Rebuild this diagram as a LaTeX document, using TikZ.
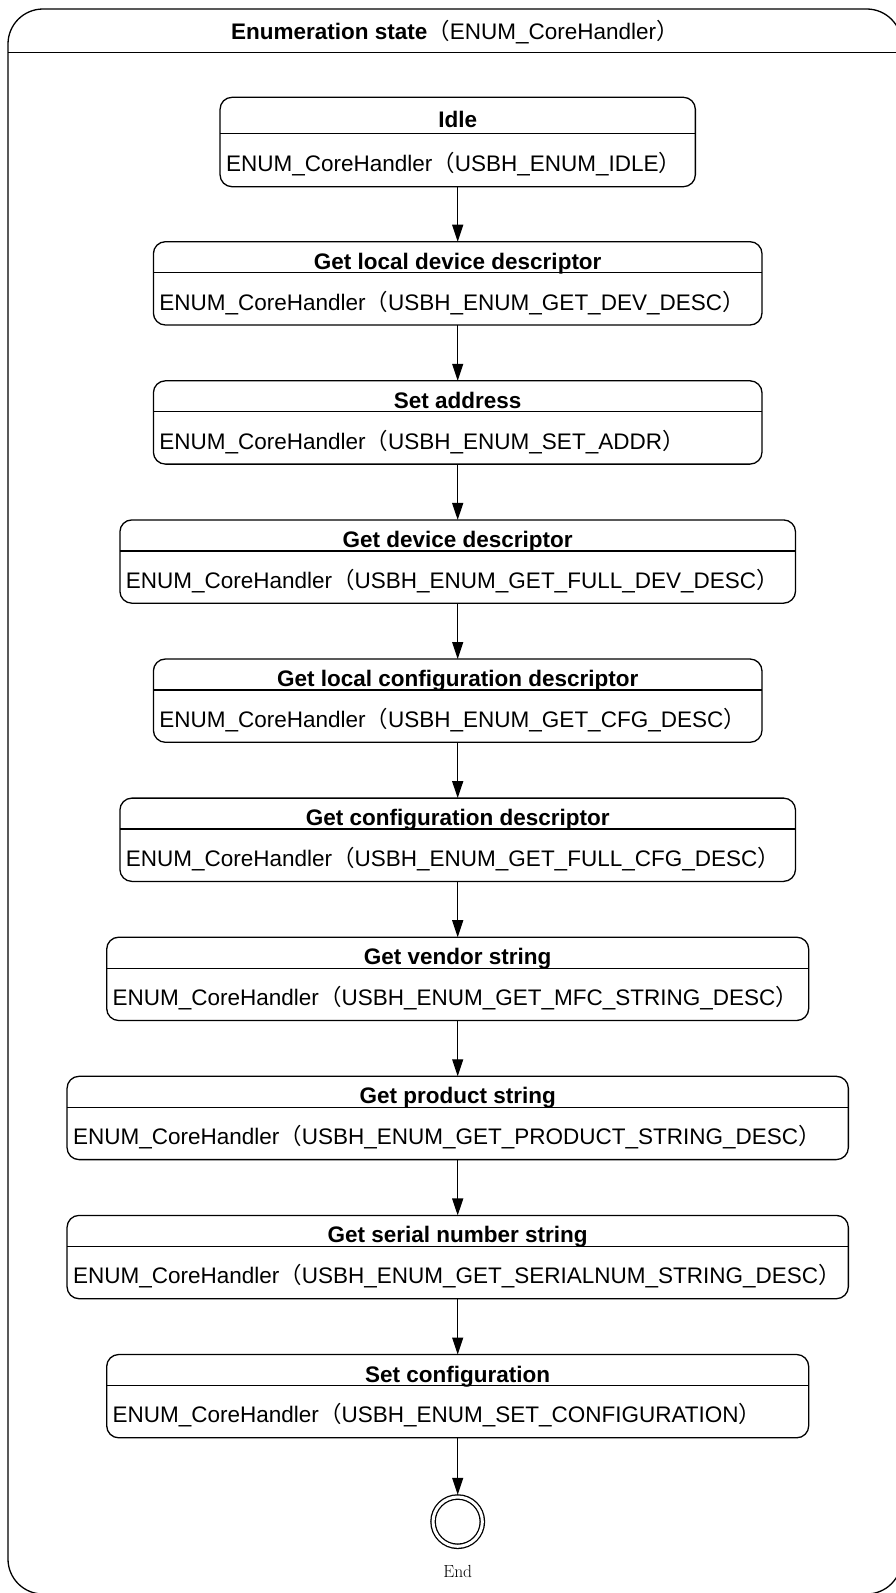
\documentclass[tikz,border=0pt]{standalone}
\usepackage{fontspec}
\setsansfont{Liberation Sans}
\newfontfamily\cjk{Noto Sans CJK SC}
\usetikzlibrary{arrows.meta, positioning}
\newcommand*{\fw}[1]{{\cjk （}#1{\cjk ）}}
\newcommand*{\corecall}[1]{ENUM\_CoreHandler\fw{#1}}

\begin{document}
\begin{tikzpicture}[x=1pt, y=1pt, line width=1.3pt, node distance=55.8pt,
    >={Triangle[length=17pt,width=11pt]},
    every node/.style={font=\sffamily\fontsize{22.5}{27}\selectfont, inner sep=0pt, outer sep=0pt},
    statebox/.style={draw, rounded corners=12pt, minimum height=83.3pt, inner xsep=6pt,
      text width=#1, align=left, text height=53.3pt, text depth=0pt},
    statetitle/.style={font=\sffamily\bfseries\fontsize{22.5}{27}\selectfont,
      minimum height=31pt, text height=24pt, text depth=0pt},
    final/.style={circle, draw, double, double distance=3pt, minimum size=49.3pt, outer sep=2.2pt}]
  \fill[white] (0,0) rectangle (896,-1593);
  \path[use as bounding box] (0,0) rectangle (896,-1593);
  \clip (0,0) rectangle (896,-1593);

  \node[draw, rounded corners=35pt, minimum width=893.7pt, minimum height=1585pt] (enum) at (454.85,-801.5) {};
  \node[minimum height=43.7pt, text height=18pt, text depth=0pt] (enum_t) [below=0pt of enum.north]
    {\textbf{Enumeration state}\fw{ENUM\_CoreHandler}};

  \node[statebox=463.3pt, minimum height=89.4pt, text height=58pt] (idle) at (457.7,-142) {\corecall{USBH\_ENUM\_IDLE}};
  \node[statebox=596.6pt] (getlocdev) [below=55pt of idle] {\corecall{USBH\_ENUM\_GET\_DEV\_DESC}};
  \node[statebox=596.6pt] (setaddr)   [below=of getlocdev] {\corecall{USBH\_ENUM\_SET\_ADDR}};
  \node[statebox=663.6pt] (getdev)    [below=of setaddr]   {\corecall{USBH\_ENUM\_GET\_FULL\_DEV\_DESC}};
  \node[statebox=596.6pt] (getloccfg) [below=of getdev]    {\corecall{USBH\_ENUM\_GET\_CFG\_DESC}};
  \node[statebox=663.6pt] (getcfg)    [below=of getloccfg] {\corecall{USBH\_ENUM\_GET\_FULL\_CFG\_DESC}};
  \node[statebox=690pt]   (vendor)    [below=of getcfg]    {\corecall{USBH\_ENUM\_GET\_MFC\_STRING\_DESC}};
  \node[statebox=769.3pt] (product)   [below=of vendor]    {\corecall{USBH\_ENUM\_GET\_PRODUCT\_STRING\_DESC}};
  \node[statebox=769.3pt] (serial)    [below=of product]   {\corecall{USBH\_ENUM\_GET\_SERIALNUM\_STRING\_DESC}};
  \node[statebox=690pt]   (setcfg)    [below=of serial]    {\corecall{USBH\_ENUM\_SET\_CONFIGURATION}};
  \node[final] (endstate) [below=57pt of setcfg] {};
  \node[font=\rmfamily\fontsize{17.5}{21}\selectfont] (endstate_t) [below=17pt of endstate] {End};

  \node[statetitle, minimum height=36pt] (idle_t) [below=0pt of idle.north] {Idle};
  \node[statetitle] (getlocdev_t) [below=0pt of getlocdev.north] {Get local device descriptor};
  \node[statetitle] (setaddr_t)   [below=0pt of setaddr.north]   {Set address};
  \node[statetitle] (getdev_t)    [below=0pt of getdev.north]    {Get device descriptor};
  \node[statetitle] (getloccfg_t) [below=0pt of getloccfg.north] {Get local configuration descriptor};
  \node[statetitle] (getcfg_t)    [below=0pt of getcfg.north]    {Get configuration descriptor};
  \node[statetitle] (vendor_t)    [below=0pt of vendor.north]    {Get vendor string};
  \node[statetitle] (product_t)   [below=0pt of product.north]   {Get product string};
  \node[statetitle] (serial_t)    [below=0pt of serial.north]    {Get serial number string};
  \node[statetitle] (setcfg_t)    [below=0pt of setcfg.north]    {Set configuration};

  % header separators
  \draw (enum_t.south -| enum.west) -- (enum_t.south -| enum.east)
    (idle_t.south -| idle.west) -- (idle_t.south -| idle.east)
    (getlocdev_t.south -| getlocdev.west) -- (getlocdev_t.south -| getlocdev.east)
    (setaddr_t.south -| setaddr.west) -- (setaddr_t.south -| setaddr.east)
    (getdev_t.south -| getdev.west) -- (getdev_t.south -| getdev.east)
    (getloccfg_t.south -| getloccfg.west) -- (getloccfg_t.south -| getloccfg.east)
    (getcfg_t.south -| getcfg.west) -- (getcfg_t.south -| getcfg.east)
    (vendor_t.south -| vendor.west) -- (vendor_t.south -| vendor.east)
    (product_t.south -| product.west) -- (product_t.south -| product.east)
    (serial_t.south -| serial.west) -- (serial_t.south -| serial.east)
    (setcfg_t.south -| setcfg.west) -- (setcfg_t.south -| setcfg.east);

  \path[->]
    (idle) edge (getlocdev)
    (getlocdev) edge (setaddr)
    (setaddr) edge (getdev)
    (getdev) edge (getloccfg)
    (getloccfg) edge (getcfg)
    (getcfg) edge (vendor)
    (vendor) edge (product)
    (product) edge (serial)
    (serial) edge (setcfg)
    (setcfg) edge (endstate);
\end{tikzpicture}
\end{document}
